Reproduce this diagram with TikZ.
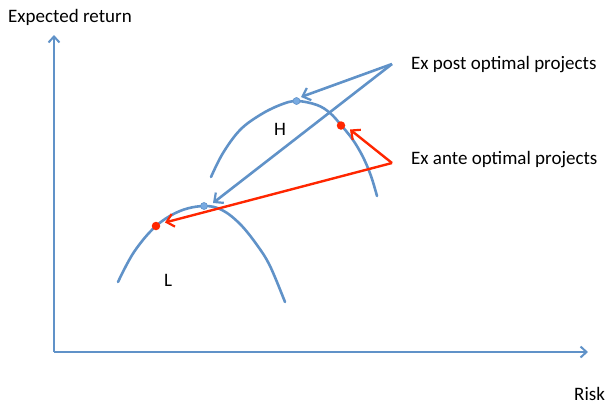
\documentclass[tikz,border=0pt]{standalone}
\usepackage{fontspec}
\setmainfont{Carlito}
\usetikzlibrary{arrows.meta}
\definecolor{cblue}{RGB}{96,146,200}
\definecolor{cdot}{RGB}{120,170,225}
\definecolor{cred}{RGB}{255,38,0}
\tikzset{
  lbl/.style={font=\fontsize{19}{22}\selectfont, inner sep=0pt, anchor=base west},
  curve/.style={cblue, line width=2.6pt, line cap=round},
  axis/.style={cblue, line width=2.6pt, -{Straight Barb[length=6pt,width=11pt,line width=2pt]}},
  barr/.style={cblue, line width=2.6pt, -{Straight Barb[length=7pt,width=13pt,line width=2.2pt]}},
  rarr/.style={cred, line width=2.4pt, -{Straight Barb[length=7pt,width=13pt,line width=2.2pt]}},
  bdot/.style={circle, fill=cdot, draw=cblue, line width=0.6pt, minimum size=7pt, inner sep=0pt},
  rdot/.style={circle, fill=cred, minimum size=8.5pt, inner sep=0pt}
}
\begin{document}
\begin{tikzpicture}[x=1pt,y=-1pt]
\useasboundingbox (0,0) rectangle (608,405);
% axes
\coordinate (O) at (54,352);
\coordinate (Ytop) at (54,35);
\coordinate (Xend) at (588,352);
\draw[axis] (O) -- (Ytop);
\draw[axis] (O) -- (Xend);
\node[lbl] (ylab) at (8,22) {Expected return};
\node[lbl] (xlab) at (574,400) {Risk};
% curves
\draw[curve] plot[smooth, tension=0.6] coordinates {(211,177) (223,153) (240,130) (260,115) (280,105) (296.5,101) (317,105) (330,113) (341,125) (353,140) (363,157) (371,176) (377,196)};
\draw[curve] plot[smooth, tension=0.6] coordinates {(118,282) (134,252) (156,226) (180,211) (204,206) (222,210) (240,224) (257,245) (270,266) (285,302)};
\node[font=\fontsize{19}{22}\selectfont] (H) at (280,129) {H};
\node[font=\fontsize{19}{22}\selectfont] (L) at (168,280) {L};
% dots
\node[bdot] (hpost) at (296.5,101) {};
\node[bdot] (lpost) at (204,206) {};
\node[rdot] (hante) at (341,125.5) {};
\node[rdot] (lante) at (156,226) {};
% labels
\node[lbl] (post) at (411,69) {Ex post optimal projects};
\node[lbl] (ante) at (411,164) {Ex ante optimal projects};
\coordinate (ps) at (392,64);
\coordinate (as) at (392,163);
\coordinate (pt1) at (301,97);
\coordinate (pt2) at (213,203);
\coordinate (at1) at (350,129.5);
\coordinate (at2) at (165,222.5);
\draw[barr] (ps) -- (pt1);
\draw[barr] (ps) -- (pt2);
\draw[rarr] (as) -- (at1);
\draw[rarr] (as) -- (at2);
\end{tikzpicture}
\end{document}
